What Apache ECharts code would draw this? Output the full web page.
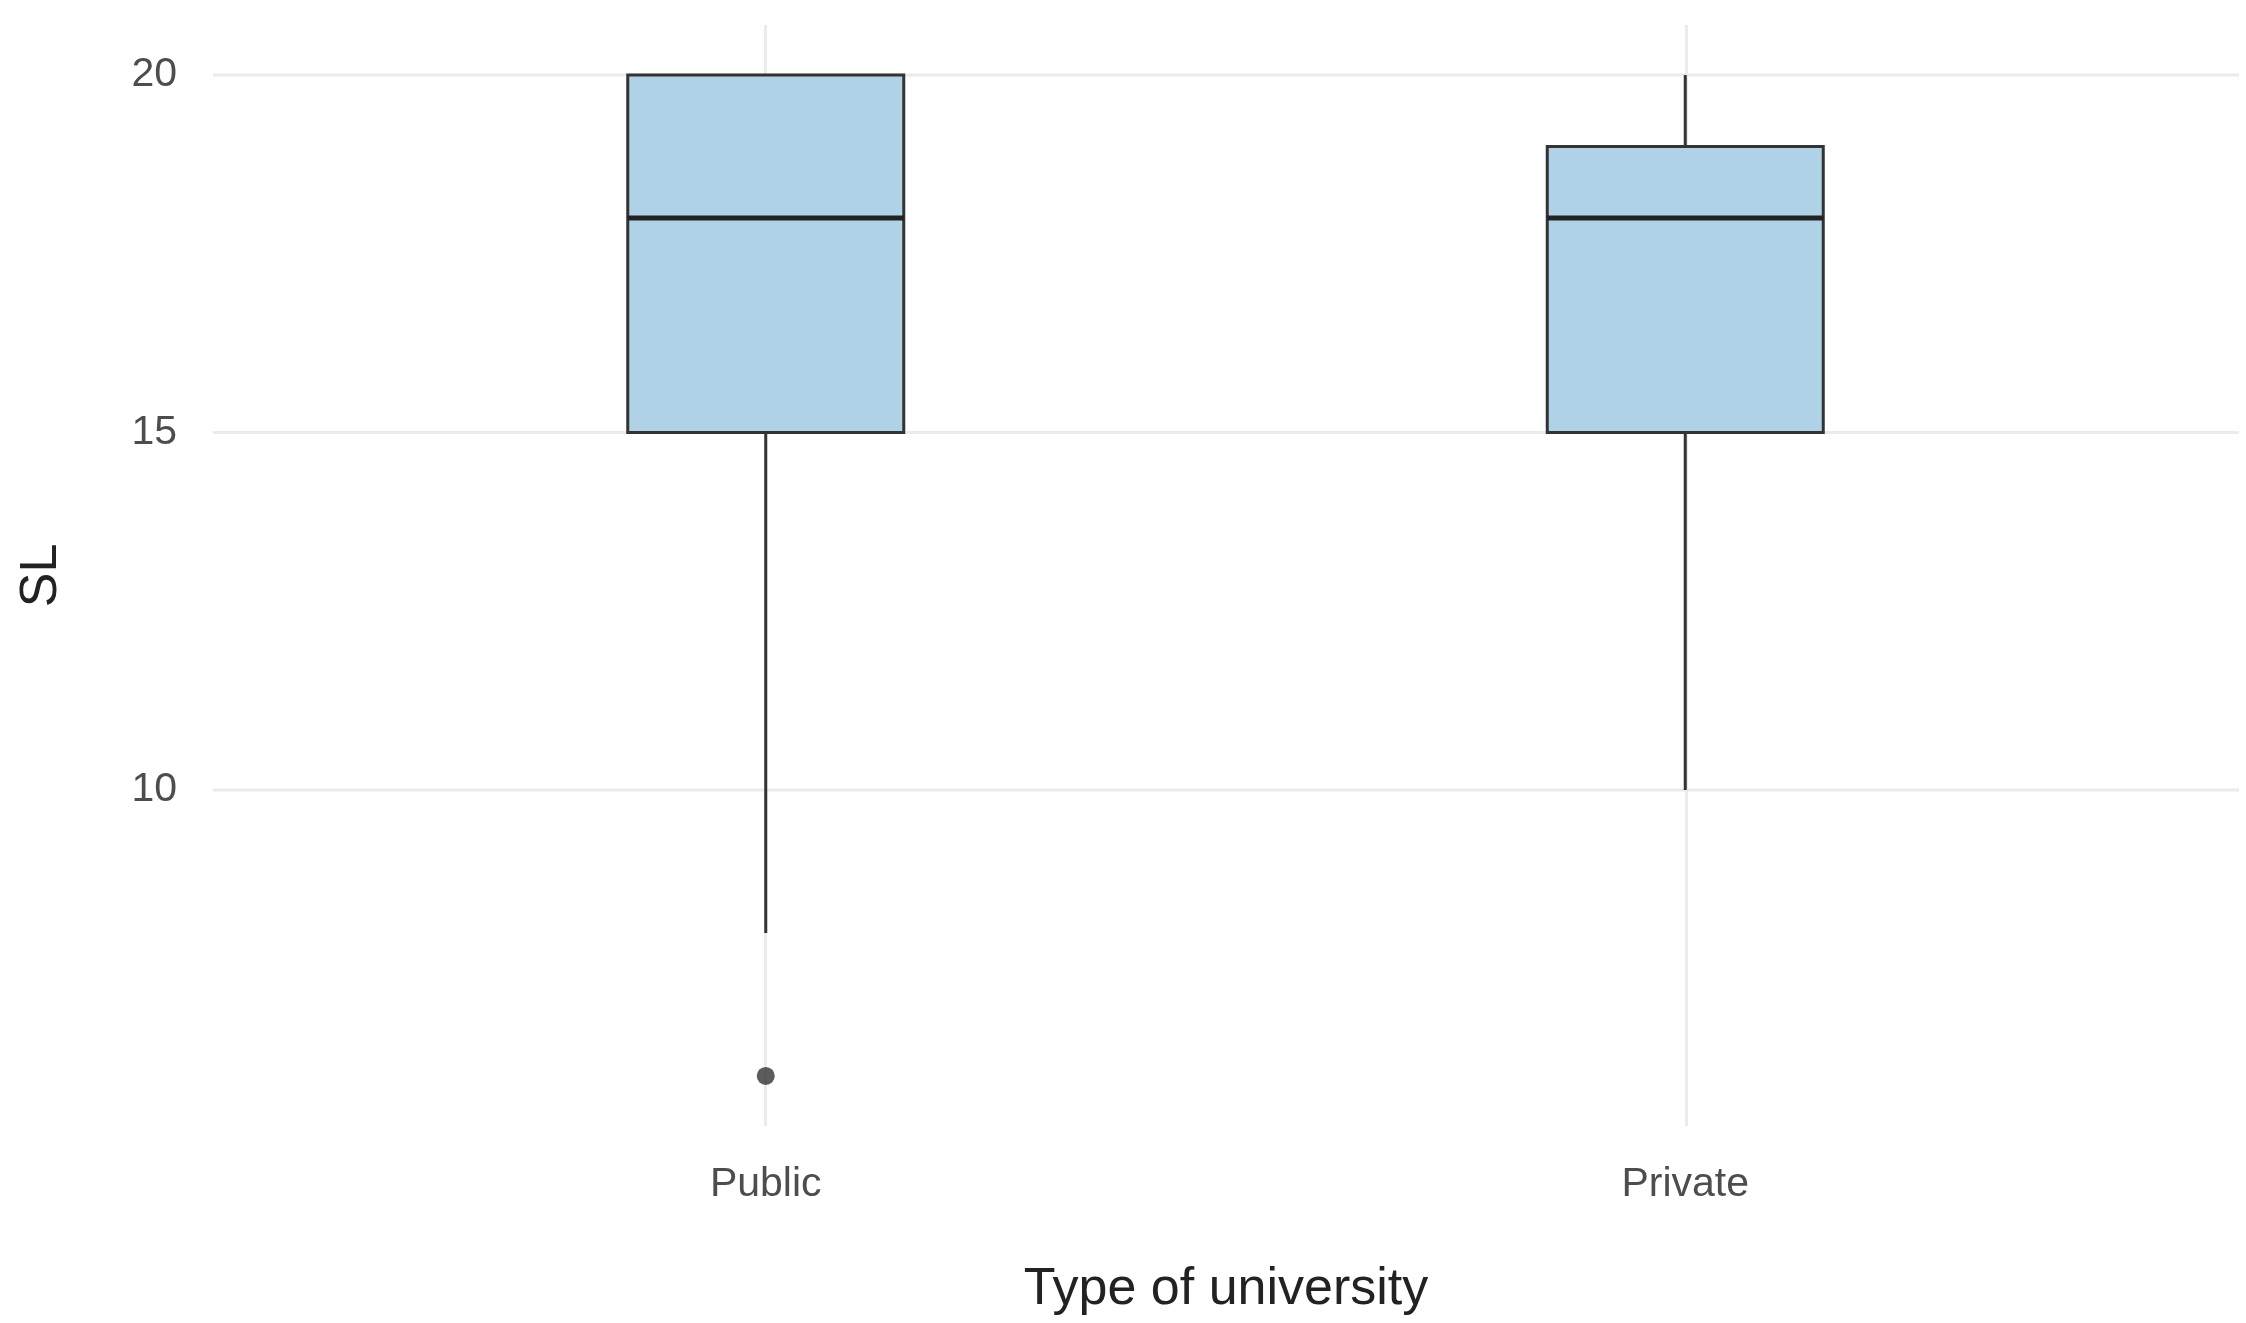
<!DOCTYPE html>
<head>
    <meta charset="utf-8">
    <title>SL by type of university</title>
    <script src="https://cdn.jsdelivr.net/npm/echarts@6/dist/echarts.min.js"></script>
</head>
<body style="margin:0;background:#fff">
    <div id="main" style="width:2246px;height:1323px"></div>
    <script type="text/javascript">
        // box stats: [min, Q1, median, Q3, max]
        var categories = ['Public', 'Private'];
        var boxStats = [[8, 15, 18, 20, 20], [10, 15, 18, 19, 20]];
        var outliers = [['Public', 6]];
        var yTicks = [10, 15, 20];
        var xTicks = [1, 2];

        var myChart = echarts.init(document.getElementById('main'));
        var gridColor = '#ebebeb';
        var yMin = 5.3, yMax = 20.7;

        // gridlines as plain line series behind everything
        var gridSeries = [];
        yTicks.forEach(function (v) {
            gridSeries.push({ type: 'line', xAxisIndex: 0, yAxisIndex: 0, z: 0, silent: true, symbol: 'none',
                lineStyle: { color: gridColor, width: 3 }, data: [[0.4, v], [2.6, v]] });
        });
        xTicks.forEach(function (v) {
            gridSeries.push({ type: 'line', xAxisIndex: 0, yAxisIndex: 0, z: 0, silent: true, symbol: 'none',
                lineStyle: { color: gridColor, width: 3 }, data: [[v, yMin], [v, yMax]] });
        });

        var halfW = 138;
        function renderBox(params, api) {
            var x = api.value(0);
            var lo = api.coord([x, api.value(1)]);
            var q1 = api.coord([x, api.value(2)]);
            var md = api.coord([x, api.value(3)]);
            var q3 = api.coord([x, api.value(4)]);
            var hi = api.coord([x, api.value(5)]);
            var cx = lo[0];
            var stroke = { stroke: '#333333', lineWidth: 3 };
            return {
                type: 'group',
                children: [
                    { type: 'line', shape: { x1: cx, y1: lo[1], x2: cx, y2: q1[1] }, style: stroke },
                    { type: 'line', shape: { x1: cx, y1: q3[1], x2: cx, y2: hi[1] }, style: stroke },
                    { type: 'rect', shape: { x: cx - halfW, y: q3[1], width: 2 * halfW, height: q1[1] - q3[1] },
                      style: { fill: '#afd2e7', stroke: '#333333', lineWidth: 3 } },
                    { type: 'line', shape: { x1: cx - halfW, y1: md[1], x2: cx + halfW, y2: md[1] },
                      style: { stroke: '#222222', lineWidth: 5 } }
                ]
            };
        }

        var option = {
            backgroundColor: '#fff',
            grid: [
                { left: 213, right: 7, top: 25, bottom: 197 },
                { left: 306, right: 101, top: 25, bottom: 197 }
            ],
            xAxis: [
                {
                    gridIndex: 0, type: 'value', min: 0.4, max: 2.6,
                    axisLine: { show: false }, axisTick: { show: false },
                    axisLabel: { show: false }, splitLine: { show: false },
                    name: 'Type of university', nameLocation: 'middle', nameGap: 138,
                    nameTextStyle: { fontSize: 52, color: '#222', fontFamily: 'Liberation Sans' }
                },
                {
                    gridIndex: 1, type: 'category', data: categories,
                    axisLine: { show: false }, axisTick: { show: false },
                    splitLine: { show: false },
                    axisLabel: { fontSize: 41, color: '#4d4d4d', margin: 38, fontFamily: 'Liberation Sans' }
                }
            ],
            yAxis: [
                {
                    gridIndex: 0, type: 'value', min: yMin, max: yMax,
                    axisLine: { show: false }, axisTick: { show: false },
                    splitLine: { show: false },
                    axisLabel: { customValues: yTicks, fontSize: 41, color: '#4d4d4d', margin: 36, fontFamily: 'Liberation Sans' },
                    name: 'SL', nameLocation: 'middle', nameGap: 145,
                    nameTextStyle: { fontSize: 52, color: '#222', fontFamily: 'Liberation Sans' }
                },
                {
                    gridIndex: 1, type: 'value', min: yMin, max: yMax, show: false
                }
            ],
            series: gridSeries.concat([
                {
                    type: 'custom', xAxisIndex: 1, yAxisIndex: 1, z: 3,
                    renderItem: renderBox,
                    encode: { x: 0, y: [1, 2, 3, 4, 5] },
                    data: boxStats.map(function (s, i) { return [i].concat(s); })
                },
                {
                    type: 'scatter', xAxisIndex: 1, yAxisIndex: 1, z: 4,
                    data: outliers, symbolSize: 18,
                    itemStyle: { color: '#333333' }
                }
            ])
        };
        myChart.setOption(option);
    </script>
</body>
